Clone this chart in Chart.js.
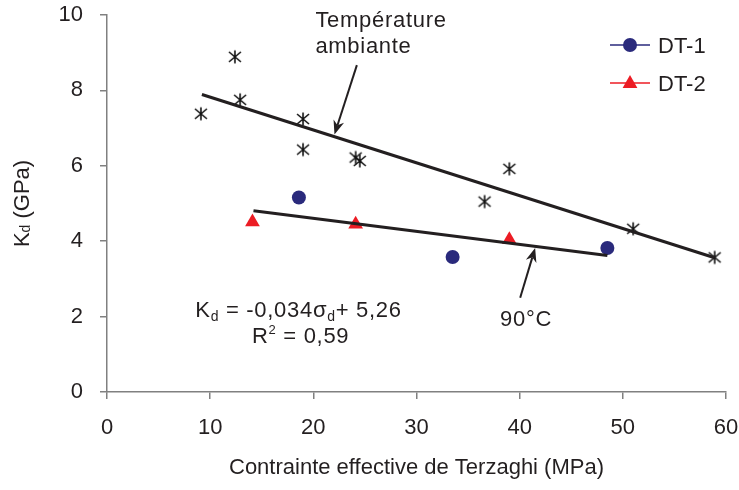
<!DOCTYPE html>
<html>
<head>
<meta charset="utf-8">
<script src="https://cdn.jsdelivr.net/npm/chart.js@4.4.0/dist/chart.umd.min.js"></script>
<style>
  html, body { margin: 0; padding: 0; background: #fff; }
  #wrap { width: 739px; height: 490px; position: relative; }
</style>
</head>
<body>
<div id="wrap"><canvas id="myChart1"></canvas></div>
<script>
'use strict';

// Température ambiante (étoiles)
var ambX = [9.1, 12.4, 12.9, 19.0, 19.0, 24.1, 24.5, 36.6, 39.0, 51.0, 58.9];
var ambY = [7.38, 8.89, 7.75, 7.24, 6.43, 6.22, 6.13, 5.05, 5.92, 4.33, 3.57];
// 90°C
var dt1X = [18.6, 33.5, 48.5];
var dt1Y = [5.16, 3.58, 3.82];
var dt2X = [14.1, 24.1, 39.0];
var dt2Y = [4.51, 4.45, 4.04];
// droites de tendance (extrémités)
var trendAmbX = [9.2, 58.9];
var trendAmbY = [7.89, 3.56];
var trend90X = [14.2, 48.5];
var trend90Y = [4.81, 3.62];

var xTicks = [0, 10, 20, 30, 40, 50, 60];
var yTicks = [0, 2, 4, 6, 8, 10];

var FONT = '"Liberation Sans", Arial, sans-serif';
var INK = '#231f20';
var NAVY = '#2a2a7c';
var RED = '#ec1c24';

function pts(xs, ys) {
  return xs.map(function (x, i) { return { x: x, y: ys[i] }; });
}

function makeStar() {
  var c = document.createElement('canvas');
  c.width = 16; c.height = 16;
  var g = c.getContext('2d');
  g.strokeStyle = '#111';
  g.lineWidth = 1.6;
  g.beginPath();
  g.moveTo(8, 1.5); g.lineTo(8, 14.5);
  g.moveTo(2, 3); g.lineTo(14, 13);
  g.moveTo(14, 3); g.lineTo(2, 13);
  g.stroke();
  return c;
}

function drawRuns(ctx, x, y, runs) {
  runs.forEach(function (r) {
    ctx.font = r.size + 'px ' + FONT;
    ctx.fillText(r.t, x, y + (r.dy || 0));
    x += ctx.measureText(r.t).width;
  });
}

function runsWidth(ctx, runs) {
  var w = 0;
  runs.forEach(function (r) {
    ctx.font = r.size + 'px ' + FONT;
    w += ctx.measureText(r.t).width;
  });
  return w;
}

function drawArrow(ctx, x1, y1, x2, y2) {
  var a = Math.atan2(y2 - y1, x2 - x1);
  var hl = 14, hw = 5.5;
  var c = Math.cos(a), s = Math.sin(a);
  ctx.beginPath();
  ctx.moveTo(x1, y1);
  ctx.lineTo(x2 - c * hl * 0.7, y2 - s * hl * 0.7);
  ctx.stroke();
  ctx.beginPath();
  ctx.moveTo(x2, y2);
  ctx.lineTo(x2 - c * hl + s * hw, y2 - s * hl - c * hw);
  ctx.lineTo(x2 - c * hl * 0.7, y2 - s * hl * 0.7);
  ctx.lineTo(x2 - c * hl - s * hw, y2 - s * hl + c * hw);
  ctx.closePath();
  ctx.fill();
}

// textes et flèches (coordonnées en unités des axes)
var notes = {
  id: 'notes',
  afterDraw: function (chart) {
    var ctx = chart.ctx, sx = chart.scales.x, sy = chart.scales.y;
    var px = function (v) { return sx.getPixelForValue(v); };
    var py = function (v) { return sy.getPixelForValue(v); };
    ctx.save();
    ctx.fillStyle = INK;
    ctx.strokeStyle = INK;
    ctx.textAlign = 'left';
    ctx.textBaseline = 'alphabetic';
    ctx.letterSpacing = '0.7px';

    drawRuns(ctx, px(20.2), py(9.69), [{ t: 'Température', size: 22 }]);
    drawRuns(ctx, px(20.2), py(9.0), [{ t: 'ambiante', size: 22 }]);
    drawRuns(ctx, px(38.1), py(1.74), [{ t: '90°C', size: 22 }]);
    drawRuns(ctx, px(8.56), py(2.0), [
      { t: 'K', size: 22 }, { t: 'd', size: 14, dy: 4 },
      { t: ' = -0,034σ', size: 22 }, { t: 'd', size: 14, dy: 4 },
      { t: '+ 5,26', size: 22 }
    ]);
    drawRuns(ctx, px(14.05), py(1.3), [
      { t: 'R', size: 22 }, { t: '2', size: 13, dy: -9 }, { t: ' = 0,59', size: 22 }
    ]);
    ctx.letterSpacing = '0px';

    ctx.lineWidth = 2;
    drawArrow(ctx, px(24.22), py(8.67), px(22.05), py(6.83));
    drawArrow(ctx, px(40.05), py(2.5), px(41.5), py(3.82));

    // titre de l'axe y
    var yRuns = [{ t: 'K', size: 22 }, { t: 'd', size: 14, dy: 3 }, { t: ' (GPa)', size: 22 }];
    var w = runsWidth(ctx, yRuns);
    ctx.translate(23, (chart.chartArea.top + chart.chartArea.bottom) / 2);
    ctx.rotate(-Math.PI / 2);
    ctx.textBaseline = 'middle';
    drawRuns(ctx, -w / 2, 0, yRuns);
    ctx.restore();

    // légende
    ctx.save();
    ctx.lineWidth = 1.5;
    ctx.strokeStyle = NAVY;
    ctx.beginPath(); ctx.moveTo(610, 45); ctx.lineTo(650, 45); ctx.stroke();
    ctx.fillStyle = NAVY;
    ctx.beginPath(); ctx.arc(630, 45, 7, 0, Math.PI * 2); ctx.fill();
    ctx.strokeStyle = RED;
    ctx.beginPath(); ctx.moveTo(610, 83); ctx.lineTo(650, 83); ctx.stroke();
    ctx.fillStyle = RED;
    ctx.beginPath();
    ctx.moveTo(630, 75); ctx.lineTo(637.4, 88); ctx.lineTo(622.6, 88);
    ctx.closePath(); ctx.fill();
    ctx.fillStyle = INK;
    ctx.textBaseline = 'alphabetic';
    drawRuns(ctx, 658, 53, [{ t: 'DT-1', size: 22 }]);
    drawRuns(ctx, 658, 91, [{ t: 'DT-2', size: 22 }]);
    ctx.restore();
  }
};

var ctx = document.getElementById('myChart1').getContext('2d');

var myChart = new Chart(ctx, {
  type: 'scatter',
  data: {
    datasets: [{
      label: 'tendance ambiante',
      data: pts(trendAmbX, trendAmbY),
      showLine: true,
      borderColor: INK,
      borderWidth: 3,
      pointRadius: 0
    }, {
      label: 'tendance 90°C',
      data: pts(trend90X, trend90Y),
      showLine: true,
      borderColor: INK,
      borderWidth: 3,
      pointRadius: 0
    }, {
      label: 'Température ambiante',
      data: pts(ambX, ambY),
      pointStyle: makeStar(),
      pointRadius: 8
    }, {
      label: 'DT-1',
      data: pts(dt1X, dt1Y),
      pointStyle: 'circle',
      pointRadius: 7,
      borderWidth: 0,
      backgroundColor: NAVY,
      borderColor: NAVY
    }, {
      label: 'DT-2',
      data: pts(dt2X, dt2Y),
      pointStyle: 'triangle',
      pointRadius: 8.5,
      borderWidth: 0,
      backgroundColor: RED,
      borderColor: RED
    }]
  },
  options: {
    responsive: true,
    maintainAspectRatio: false,
    animation: false,
    layout: {
      padding: { top: 15, right: 13, left: 0, bottom: 0 }
    },
    plugins: {
      legend: { display: false },
      tooltip: { enabled: false }
    },
    scales: {
      x: {
        type: 'linear',
        min: 0,
        max: 60,
        afterBuildTicks: function (scale) {
          scale.ticks = xTicks.map(function (v) { return { value: v }; });
        },
        afterFit: function (scale) {
          scale.height = 98;
          scale.paddingLeft = 0;
          scale.paddingRight = 0;
        },
        grid: {
          drawOnChartArea: false,
          drawTicks: true,
          tickLength: 7,
          color: '#808080',
          lineWidth: 1.5
        },
        border: { color: '#808080', width: 1.5 },
        ticks: {
          padding: 15.5,
          color: INK,
          font: { family: FONT, size: 22 },
          maxRotation: 0
        },
        title: {
          display: true,
          text: 'Contrainte effective de Terzaghi (MPa)',
          color: INK,
          font: { family: FONT, size: 22 },
          padding: { top: 0, bottom: 9 }
        }
      },
      y: {
        type: 'linear',
        min: 0,
        max: 10,
        afterBuildTicks: function (scale) {
          scale.ticks = yTicks.map(function (v) { return { value: v }; });
        },
        afterFit: function (scale) {
          scale.width = 107;
          scale.paddingTop = 0;
          scale.paddingBottom = 0;
        },
        grid: {
          drawOnChartArea: false,
          drawTicks: true,
          tickLength: 7,
          color: '#808080',
          lineWidth: 1.5
        },
        border: { color: '#808080', width: 1.5 },
        ticks: {
          padding: 17,
          color: INK,
          font: { family: FONT, size: 22 }
        }
      }
    }
  },
  plugins: [notes]
});
</script>
</body>
</html>
